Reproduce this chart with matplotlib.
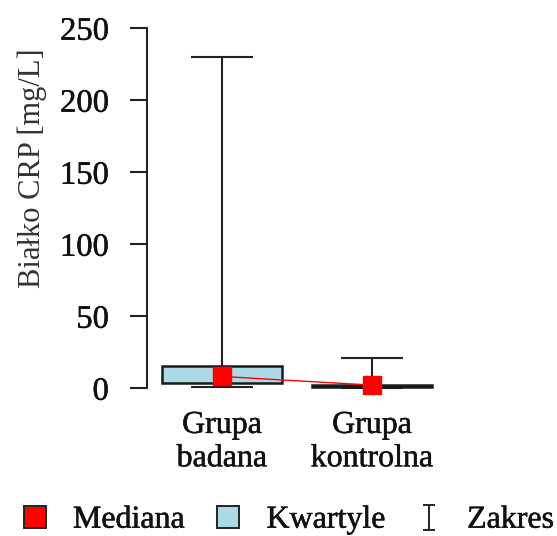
import matplotlib
matplotlib.use("Agg")
import matplotlib.pyplot as plt
import matplotlib.patheffects as pe
from matplotlib.lines import Line2D
from matplotlib.path import Path

plt.rcParams['font.family'] = ['Liberation Serif', 'DejaVu Serif']

# CRP summary statistics per group
groups = ["Grupa\nbadana", "Grupa\nkontrolna"]
medians = [8.0, 2.0]
q1 = [3.5, 1.0]
q3 = [15.3, 2.4]
mins = [0.5, 0.0]
maxs = [230.0, 20.5]
yticks = [0, 50, 100, 150, 200, 250]

box_face = "#ADD8E6"
edge = "#222222"
red = "#FF0000"
text_col = "#111111"
heavy = [pe.withStroke(linewidth=0.35, foreground=text_col)]

fig = plt.figure(figsize=(5.57, 5.36), dpi=100)
ax = fig.add_axes([147 / 557, 148 / 536, 300 / 557, 360 / 536])

x = [1, 2]
# whiskers with caps
ax.vlines(x, q3, maxs, color=edge, lw=1.5, zorder=1)
ax.vlines(x, mins, q1, color=edge, lw=1.5, zorder=1)
cap = 0.41
for xi, lo, hi in zip(x, mins, maxs):
    ax.hlines([lo, hi], xi - cap / 2, xi + cap / 2, color=edge, lw=1.5, zorder=1, clip_on=False)

# interquartile boxes
ax.bar(x, [b - a for a, b in zip(q1, q3)], bottom=q1, width=0.8,
       color=box_face, edgecolor="#1a1a1a", linewidth=1.8, zorder=2, clip_on=False)

# medians joined by a line
ax.plot(x, medians, color=red, lw=1.0, zorder=3, clip_on=False)
ax.plot(x, medians, linestyle='none', marker='s', markersize=13,
        markerfacecolor=red, markeredgecolor=red, zorder=4, clip_on=False)

ax.set_xlim(0.5, 2.5)
ax.set_ylim(0, 250)
ax.set_yticks(yticks)
ax.set_xticks(x)
ax.set_xticklabels(groups, fontsize=23, linespacing=1.2, color=text_col)
ax.tick_params(axis='y', direction='out', length=12.5, width=1.5, color=edge,
               labelsize=23.5, pad=15, labelcolor=text_col)
ax.tick_params(axis='x', length=0, pad=16.5)
for s in ['top', 'right', 'bottom']:
    ax.spines[s].set_visible(False)
ax.spines['left'].set_color(edge)
ax.spines['left'].set_linewidth(1.5)
ax.set_ylabel("Białko CRP [mg/L]", fontsize=22, color="#333333")
ax.yaxis.set_label_coords(-0.333, 0.61)
for t in ax.get_xticklabels() + ax.get_yticklabels():
    t.set_path_effects(heavy)

# I-beam glyph for the range entry in the legend
ibeam = Path([(-0.5, 1), (0.5, 1), (0, 1), (0, -1), (-0.5, -1), (0.5, -1)],
             [Path.MOVETO, Path.LINETO, Path.MOVETO, Path.LINETO, Path.MOVETO, Path.LINETO])
handles = [
    Line2D([], [], linestyle='none', marker='s', markersize=16.5,
           markerfacecolor=red, markeredgecolor="#222222", markeredgewidth=1.4),
    Line2D([], [], linestyle='none', marker='s', markersize=16.5,
           markerfacecolor=box_face, markeredgecolor="#222222", markeredgewidth=1.4),
    Line2D([], [], linestyle='none', marker=ibeam, markersize=18,
           markeredgecolor="#222222", markeredgewidth=1.4, color="#222222"),
]
leg = fig.legend(handles, ["Mediana", "Kwartyle", "Zakres"], loc='center',
                 bbox_to_anchor=(0.517, 16 / 536), ncol=3, frameon=False,
                 fontsize=23, handlelength=0.8, handletextpad=0.8, columnspacing=0.95)
for t in leg.get_texts():
    t.set_color(text_col)
    t.set_path_effects(heavy)

fig.savefig("out.png", dpi=100)
